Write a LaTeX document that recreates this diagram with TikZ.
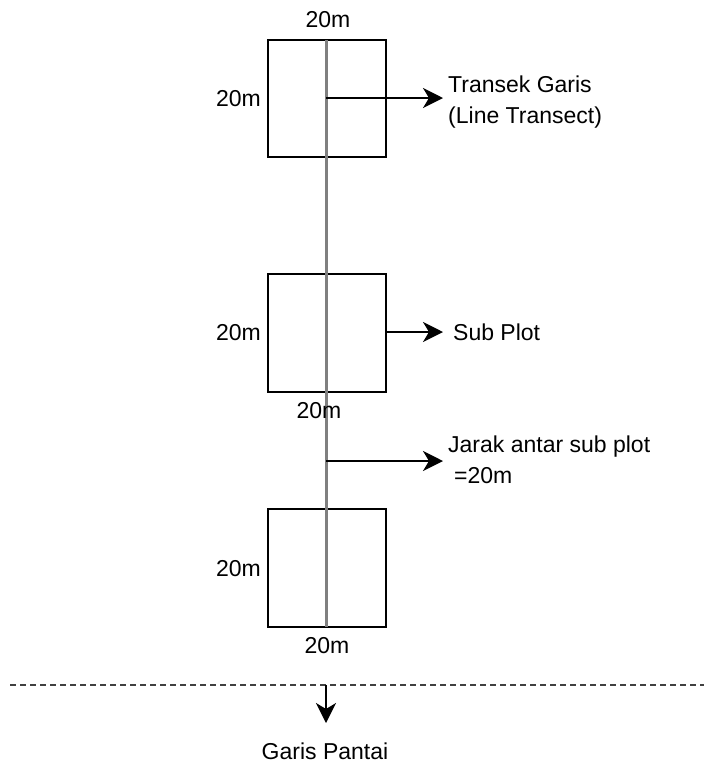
\documentclass[tikz,border=0pt]{standalone}
\usepackage{fontspec}
\setmainfont{Liberation Sans}
\usetikzlibrary{arrows.meta}
\begin{document}
\begin{tikzpicture}[x=1pt,y=-1pt,
  plot/.style={draw=black,line width=2pt,fill=none},
  lbl/.style={inner sep=0pt,font=\fontsize{23}{31}\selectfont},
  arr/.style={draw=black,line width=2pt,-{Stealth[length=20pt,width=20pt,inset=6pt]}},
  transect/.style={draw=black!50,line width=3pt}]
\useasboundingbox (0,0) rectangle (704,764);
% plots
\draw[plot] (268,40) rectangle (386,157);
\draw[plot] (268,274) rectangle (386,392);
\draw[plot] (268,509) rectangle (386,627);
\coordinate (ttop) at (326,40);
\coordinate (tbot) at (326,627);
\draw[transect] (ttop) -- (tbot);
% labels
\node[lbl,anchor=base] at (328,27) {20m};
\node[lbl,anchor=base east] at (261,106) {20m};
\node[lbl,anchor=base east] at (261,340) {20m};
\node[lbl,anchor=base] at (319,418) {20m};
\node[lbl,anchor=base east] at (261,576) {20m};
\node[lbl,anchor=base] at (327,653) {20m};
% annotations
\coordinate (a1) at (326,98);
\node[lbl,anchor=base west,align=left] (t1) at (448,123) {Transek Garis\\(Line Transect)};
\coordinate (a1e) at (443,98);
\draw[arr] (a1) -- (a1e);
\coordinate (a2) at (386,332);
\coordinate (a2e) at (443,332);
\node[lbl,anchor=base west] (t2) at (453,340) {Sub Plot};
\draw[arr] (a2) -- (a2e);
\coordinate (a3) at (326,461);
\coordinate (a3e) at (443,461);
\node[lbl,anchor=base west,align=left] (t3) at (448,483) {Jarak antar sub plot\\\hspace*{6pt}=20m};
\draw[arr] (a3) -- (a3e);
% shoreline
\coordinate (sl) at (10,685);
\coordinate (sr) at (704,685);
\draw[draw=black!75,line width=1.3pt,dash pattern=on 6pt off 4pt] (sl) -- (sr);
\coordinate (g1) at (326,685);
\coordinate (g2) at (326,723);
\draw[arr] (g1) -- (g2);
\node[lbl,anchor=base] (gp) at (325,759) {Garis Pantai};
\end{tikzpicture}
\end{document}
